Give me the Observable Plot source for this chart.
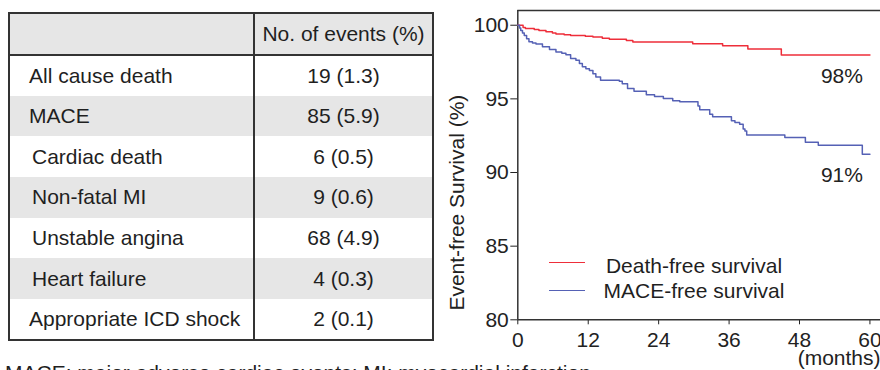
<!DOCTYPE html>
<html>
<head>
<meta charset="utf-8">
<script src="https://cdn.jsdelivr.net/npm/d3@7"></script>
<script src="https://cdn.jsdelivr.net/npm/@observablehq/plot@0.6"></script>
<style>
html, body { margin: 0; padding: 0; background: #fff; }
body { width: 880px; height: 370px; overflow: hidden; position: relative;
  font-family: "Liberation Sans", Arial, Helvetica, sans-serif; color: #1f1f1f; }
#tbl { position: absolute; left: 8px; top: 12px; width: 424px; border-collapse: collapse;
  table-layout: fixed; font-size: 21px; border: 2px solid #333; }
#tbl td { padding: 0; vertical-align: middle; white-space: nowrap; }
#tbl td.c1 { border-right: 2px solid #333; }
#tbl td.c2 { text-align: center; }
#tbl tr.head td { border-bottom: 2px solid #333; }
#tbl tr.gray { background: #e6e6e6; }
#chart { position: absolute; left: 440px; top: 0; width: 440px; height: 370px; }
.lg-line { position: absolute; width: 36px; height: 0; border-top: 1.5px solid; }
.lg-text { position: absolute; width: 220px; text-align: center; font-size: 21px; line-height: 21px; }
#caption { position: absolute; left: 5px; top: 362px; font-size: 21px; line-height: 21px; white-space: nowrap; }
</style>
</head>
<body>
<table id="tbl"></table>
<div id="chart"></div>
<div id="caption"></div>
<script>
// ---- Table data ----
const tableHeader = ["", "No. of events (%)"];
const outcomes = ["All cause death", "MACE", "Cardiac death", "Non-fatal MI", "Unstable angina", "Heart failure", "Appropriate ICD shock"];
const eventCounts = ["19 (1.3)", "85 (5.9)", "6 (0.5)", "9 (0.6)", "68 (4.9)", "4 (0.3)", "2 (0.1)"];
const outcomeIndented = [false, false, true, true, true, true, false];
const caption = "MACE: major adverse cardiac events; MI: myocardial infarction";

// ---- Survival curves (months, %) ----
const deathMonths   = [0, 0.9, 1.3, 2.8, 3.6, 4.8, 5.9, 6.5, 7.9, 9.0, 11.5, 12.8, 14.4, 15.6, 18.5, 19.6, 29.8, 34.9, 39.2, 44.9, 60];
const deathSurvival = [100, 99.85, 99.78, 99.71, 99.64, 99.55, 99.48, 99.41, 99.35, 99.30, 99.26, 99.20, 99.12, 99.04, 98.97, 98.86, 98.74, 98.60, 98.39, 97.98, 97.98];
const maceMonths   = [0, 0.3, 0.5, 0.8, 1.1, 1.5, 1.9, 2.5, 3.1, 4.2, 5.4, 6.5, 7.5, 8.2, 9.0, 9.9, 10.5, 11.0, 11.6, 12.2, 12.8, 13.3, 14.1, 17.3, 17.8, 18.7, 19.8, 21.9, 23.3, 24.8, 26.4, 27.6, 30.7, 31.0, 32.7, 33.2, 36.4, 37.0, 37.8, 38.4, 38.7, 39.0, 45.5, 49.0, 51.2, 58.7, 60];
const maceSurvival = [100, 99.82, 99.65, 99.48, 99.31, 99.08, 98.88, 98.80, 98.72, 98.54, 98.35, 98.19, 98.10, 97.99, 97.74, 97.62, 97.40, 97.18, 97.05, 96.93, 96.70, 96.48, 96.26, 96.20, 96.02, 95.70, 95.52, 95.28, 95.16, 95.02, 94.87, 94.80, 94.52, 94.26, 93.96, 93.78, 93.52, 93.40, 93.28, 92.96, 92.82, 92.55, 92.37, 92.05, 91.85, 91.24, 91.24];
const seriesNames = ["Death-free survival", "MACE-free survival"];
const seriesColors = ["#ee2e3a", "#5561b5"];
const xTicks = [0, 12, 24, 36, 48, 60];
const yTicks = [80, 85, 90, 95, 100];
const xUnit = "(months)";
const yLabel = "Event-free Survival (%)";

// ---- Build table ----
const tbl = document.getElementById("tbl");
tbl.innerHTML =
  `<colgroup><col style="width:245px"><col style="width:179px"></colgroup>` +
  `<tr class="head gray" style="height:42px"><td class="c1">${tableHeader[0]}</td><td class="c2">${tableHeader[1]}</td></tr>` +
  outcomes.map((o, i) =>
    `<tr class="${i % 2 === 1 ? "gray" : ""}" style="height:40.7px"><td class="c1" style="padding-left:${outcomeIndented[i] ? 22 : 19}px">${o}</td><td class="c2">${eventCounts[i]}</td></tr>`
  ).join("");
document.getElementById("caption").textContent = caption;

// ---- Chart ----
const deathData = deathMonths.map((m, i) => ({month: m, surv: deathSurvival[i]}));
const maceData = maceMonths.map((m, i) => ({month: m, surv: maceSurvival[i]}));
const ends = [deathData, maceData].map((d, i) => ({...d[d.length - 1], name: seriesNames[i]}));

const font = '"Liberation Sans", Arial, Helvetica, sans-serif';
const chart = Plot.plot({
  width: 440, height: 370,
  marginLeft: 77.3, marginRight: 0, marginTop: 10, marginBottom: 50.7,
  style: {fontSize: "21px", fontFamily: font, color: "#222", background: "transparent", overflow: "visible"},
  x: {domain: [0, 61.8], ticks: xTicks, tickSize: 5, tickPadding: 7, label: null},
  y: {domain: [80, 101], ticks: yTicks, tickSize: 7, tickPadding: 2, label: null},
  marks: [
    Plot.ruleY([80], {stroke: "#333", strokeWidth: 1.5}),
    Plot.ruleY([101], {stroke: "#333", strokeWidth: 1.5}),
    Plot.ruleX([0], {stroke: "#333", strokeWidth: 1.5}),
    Plot.line(deathData, {x: "month", y: "surv", curve: "step-after", stroke: seriesColors[0], strokeWidth: 1.5}),
    Plot.line(maceData, {x: "month", y: "surv", curve: "step-after", stroke: seriesColors[1], strokeWidth: 1.5}),
    Plot.text(ends, {x: "month", y: "surv", text: d => Math.round(d.surv) + "%", textAnchor: "end", lineAnchor: "middle", dx: -7, dy: 21, fill: "#222"}),
    Plot.text([xUnit], {frameAnchor: "bottom-right", text: d => d, textAnchor: "end", lineAnchor: "middle", dy: 38.5, fill: "#222"}),
    Plot.text([yLabel], {frameAnchor: "left", text: d => d, rotate: -90, textAnchor: "middle", lineAnchor: "middle", dx: -61, dy: 37.5, fill: "#222"})
  ]
});
const holder = document.getElementById("chart");
holder.appendChild(chart);

// ---- Legend (inside plot area) ----
const lgTops = [262.3, 290.7];
const txtTops = [254.7, 280.2];
seriesNames.forEach((name, i) => {
  const ln = document.createElement("div");
  ln.className = "lg-line";
  ln.style.left = "109px";
  ln.style.top = (lgTops[i] - 0.75) + "px";
  ln.style.borderTopColor = seriesColors[i];
  holder.appendChild(ln);
  const tx = document.createElement("div");
  tx.className = "lg-text";
  tx.style.left = (254 - 110) + "px";
  tx.style.top = txtTops[i] + "px";
  tx.textContent = name;
  holder.appendChild(tx);
});
</script>
</body>
</html>
